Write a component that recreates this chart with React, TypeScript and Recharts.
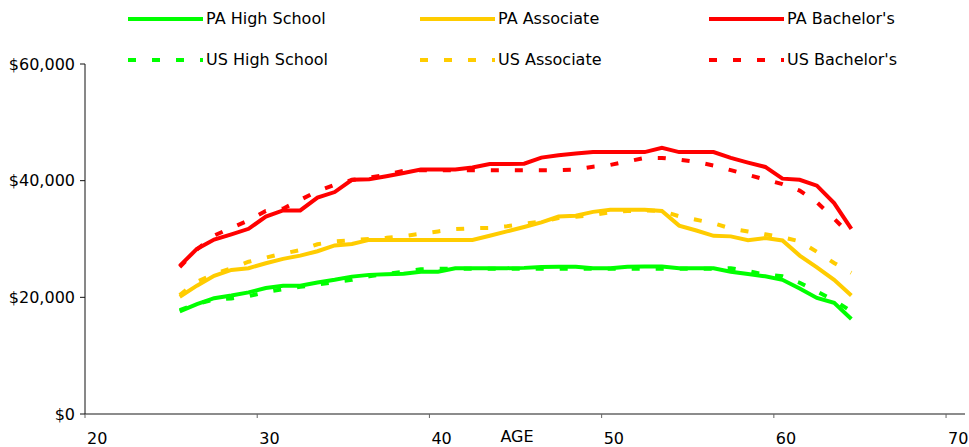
import React from 'react';
import { LineChart, Line, XAxis, YAxis } from 'recharts';

const ages = [
  25.5, 26.5, 27.5, 28.5, 29.5, 30.5, 31.5, 32.5, 33.5, 34.5,
  35.5, 36.5, 37.5, 38.5, 39.5, 40.5, 41.5, 42.5, 43.5, 44.5,
  45.5, 46.5, 47.5, 48.5, 49.5, 50.5, 51.5, 52.5, 53.5, 54.5,
  55.5, 56.5, 57.5, 58.5, 59.5, 60.5, 61.5, 62.5, 63.5, 64.5,
];

const paHighSchool = [
  17600, 18850, 19850, 20300, 20850, 21600, 22000, 22000, 22550, 23000,
  23550, 23850, 23950, 24050, 24400, 24400, 25000, 25000, 25000, 25000,
  25050, 25200, 25250, 25250, 25000, 25000, 25250, 25300, 25300, 25000,
  25000, 25000, 24400, 24000, 23600, 23000, 21500, 19900, 19050, 16300,
];

const usHighSchool = [
  17800, 18900, 19600, 19800, 20200, 20900, 21400, 21800, 22200, 22600,
  23000, 23600, 24000, 24400, 24800, 24900, 24900, 24900, 24900, 24900,
  24900, 24900, 24900, 24900, 24900, 24900, 24900, 24900, 24900, 24900,
  24900, 24900, 25000, 24500, 23900, 23600, 22500, 21000, 19500, 17600,
];

const paAssociate = [
  20100, 22000, 23700, 24700, 25000, 25850, 26600, 27150, 27900, 28900,
  29150, 29850, 29850, 29850, 29850, 29850, 29850, 29850, 30550, 31300,
  32050, 32850, 33850, 34000, 34650, 35000, 35000, 35000, 34800, 32300,
  31450, 30550, 30450, 29800, 30150, 29750, 27150, 25150, 23000, 20300,
];

const usAssociate = [
  20400, 22700, 24000, 25000, 26100, 26800, 27500, 28100, 29100, 29600,
  29800, 30000, 30200, 30500, 30900, 31300, 31700, 31850, 31900, 32200,
  32600, 33000, 33600, 33800, 34100, 34600, 34800, 34900, 34800, 33900,
  33300, 32700, 31800, 31300, 30800, 30300, 29600, 27800, 25900, 24200,
];

const paBachelors = [
  25400, 28300, 29900, 30800, 31750, 33850, 34900, 34900, 37100, 38050,
  40150, 40250, 40750, 41300, 41900, 41900, 41900, 42250, 42850, 42850,
  42900, 43950, 44350, 44650, 44900, 44900, 44900, 44900, 45650, 44900,
  44900, 44900, 43900, 43100, 42350, 40350, 40150, 39150, 36150, 31750,
];

const usBachelors = [
  25200, 28200, 30600, 31900, 33200, 34800, 35200, 36700, 38200, 39300,
  40100, 40500, 41000, 41700, 41800, 41800, 41800, 41800, 41800, 41800,
  41800, 41800, 41800, 41900, 42400, 42700, 43300, 43900, 43900, 43600,
  43200, 42600, 41800, 41000, 40200, 39400, 38300, 36300, 33500, 30500,
];

const xTicks = [20, 30, 40, 50, 60, 70];
const yTicks = [0, 20000, 40000, 60000];

const FONT = "'DejaVu Sans', Verdana, sans-serif";
const GREEN = '#00FF00';
const GOLD = '#FFCC00';
const RED = '#FF0000';
const DASH = '8 16';

type Series = { key: string; name: string; values: number[]; color: string; dashed: boolean };

const series: Series[] = [
  { key: 'paHS', name: 'PA High School', values: paHighSchool, color: GREEN, dashed: false },
  { key: 'paAS', name: 'PA Associate', values: paAssociate, color: GOLD, dashed: false },
  { key: 'paBA', name: "PA Bachelor's", values: paBachelors, color: RED, dashed: false },
  { key: 'usHS', name: 'US High School', values: usHighSchool, color: GREEN, dashed: true },
  { key: 'usAS', name: 'US Associate', values: usAssociate, color: GOLD, dashed: true },
  { key: 'usBA', name: "US Bachelor's", values: usBachelors, color: RED, dashed: true },
];

const data = ages.map((age, i) => {
  const row: Record<string, number> = { age };
  series.forEach((s) => {
    row[s.key] = s.values[i];
  });
  return row;
});

const fmtMoney = (v: number) => '$' + v.toLocaleString('en-US');

const XTick = (props: any) => {
  const { x, y, payload } = props;
  return (
    <text x={x + 2} y={y} dy={24} textAnchor="start" fontFamily={FONT} fontSize={16} fill="#000">
      {payload.value}
    </text>
  );
};

const legendCols = [128, 420, 709];
const legendRows = [19, 60];

const LegendOverlay = () => (
  <svg
    width={969}
    height={80}
    style={{ position: 'absolute', left: 0, top: 0, pointerEvents: 'none' }}
  >
    {series.map((s, i) => {
      const cx = legendCols[i % 3];
      const cy = legendRows[Math.floor(i / 3)];
      return (
        <g key={s.key}>
          <line
            x1={cx}
            x2={cx + 75}
            y1={cy}
            y2={cy}
            stroke={s.color}
            strokeWidth={4}
            strokeDasharray={s.dashed ? DASH : undefined}
          />
          <text x={cx + 78} y={cy + 5} fontFamily={FONT} fontSize={16} fill="#000">
            {s.name}
          </text>
        </g>
      );
    })}
  </svg>
);

export default function App() {
  return (
    <div style={{ position: 'absolute', left: 0, top: 0, width: 969, height: 447, background: '#fff' }}>
      <LineChart
        width={969}
        height={447}
        data={data}
        margin={{ top: 64, right: 4, bottom: 0, left: 0 }}
      >
        <XAxis
          dataKey="age"
          type="number"
          domain={[20, 71.1]}
          ticks={xTicks}
          tick={<XTick />}
          tickSize={4}
          height={33}
          axisLine={{ stroke: '#666', strokeWidth: 1.5 }}
          tickLine={{ stroke: '#666' }}
          allowDataOverflow
          label={{
            value: 'AGE',
            position: 'insideBottom',
            offset: 5,
            dx: -8,
            fontSize: 16,
            fontFamily: FONT,
            fill: '#000',
          }}
        />
        <YAxis
          type="number"
          domain={[0, 60000]}
          ticks={yTicks}
          tickFormatter={fmtMoney}
          width={85}
          tickSize={5}
          tickMargin={5}
          axisLine={{ stroke: '#111' }}
          tickLine={{ stroke: '#111' }}
          tick={{ fontSize: 16, fontFamily: FONT, fill: '#000' }}
          allowDataOverflow
        />
        {series.map((s) => (
          <Line
            key={s.key}
            dataKey={s.key}
            name={s.name}
            type="linear"
            stroke={s.color}
            strokeWidth={4}
            strokeDasharray={s.dashed ? DASH : undefined}
            dot={false}
            activeDot={false}
            isAnimationActive={false}
          />
        ))}
      </LineChart>
      <LegendOverlay />
    </div>
  );
}
